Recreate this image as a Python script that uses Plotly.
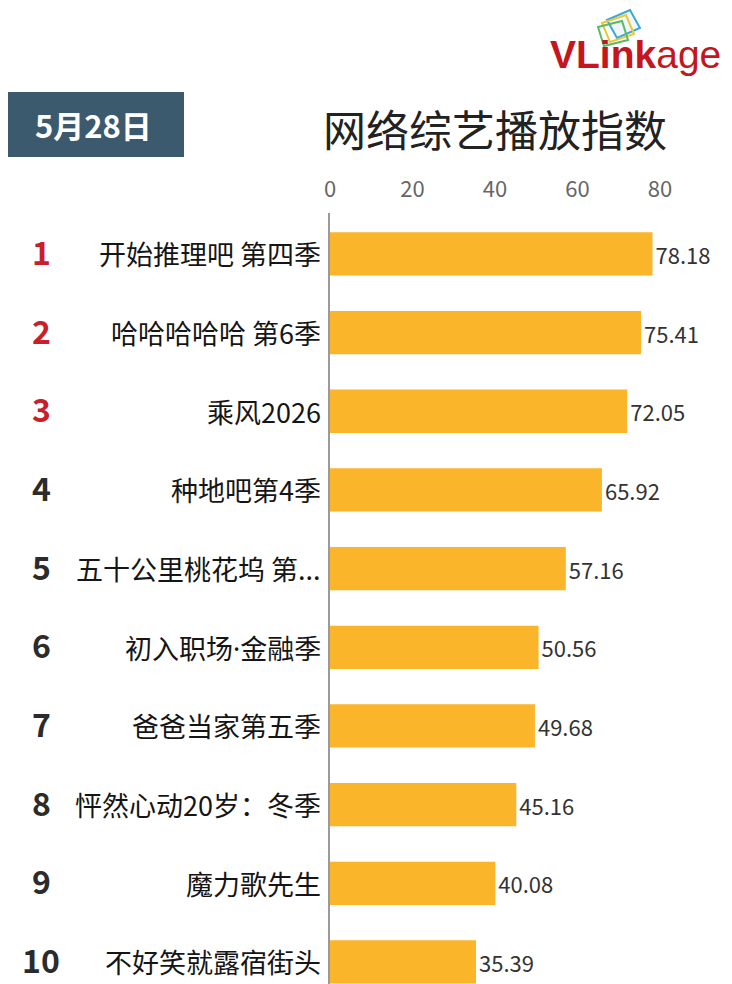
import plotly.graph_objects as go

# The page body adds an 8px offset; map reference pixels accordingly.
OFF = 8
W, H = 732 - OFF, 984 - OFF

ranks = ["1", "2", "3", "4", "5", "6", "7", "8", "9", "10"]
names = ["开始推理吧 第四季", "哈哈哈哈哈 第6季", "乘风2026", "种地吧第4季",
         "五十公里桃花坞 第...", "初入职场·金融季", "爸爸当家第五季",
         "怦然心动20岁：冬季", "魔力歌先生", "不好笑就露宿街头"]
values = [78.18, 75.41, 72.05, 65.92, 57.16, 50.56, 49.68, 45.16, 40.08, 35.39]
tick_vals = [0, 20, 40, 60, 80]
title_text = "网络综艺播放指数"
date_text = "5月28日"

FONT = "Noto Sans CJK SC"
BAR = "#FBB52A"
RED = "#C8202A"
DARK = "#2B2B2B"

def px(x):
    return (x - OFF) / W

def py(y):
    return 1 - (y - OFF) / H

def fmt_name(n):
    # render the middle dot narrow, as in the reference
    return n.replace("·", "<span style='font-family:Noto Sans'>·</span>")

pos = list(range(len(values)))

fig = go.Figure()
fig.add_trace(go.Bar(
    x=values, y=pos, orientation="h", width=0.55,
    marker=dict(color=BAR, line=dict(width=0)),
    text=[f"{v:.2f}" for v in values], textposition="outside",
    textfont=dict(family=FONT, size=22, color="#333333"),
    cliponaxis=False, hoverinfo="skip",
))

annotations = []
for i, (r, n) in enumerate(zip(ranks, names)):
    annotations.append(dict(
        x=px(41), y=i, xref="paper", yref="y", text=f"<b>{r}</b>",
        showarrow=False, xanchor="center", yanchor="middle", yshift=3,
        font=dict(family=FONT, size=32, color=RED if i < 3 else DARK)))
    annotations.append(dict(
        x=px(323), y=i, xref="paper", yref="y", text=fmt_name(n),
        showarrow=False, xanchor="right", yanchor="middle",
        font=dict(family=FONT, size=27, color="#151515")))

annotations.append(dict(
    x=px(495), y=py(128), xref="paper", yref="paper", text=title_text,
    showarrow=False, xanchor="center", yanchor="middle",
    font=dict(family=FONT, size=43, color="#222222")))
annotations.append(dict(
    x=px(93), y=py(125), xref="paper", yref="paper", text=f"<b>{date_text}</b>",
    showarrow=False, xanchor="center", yanchor="middle",
    font=dict(family=FONT, size=31, color="white")))
annotations.append(dict(
    x=px(723), y=py(55), xref="paper", yref="paper",
    text="<b>VLink</b>age",
    showarrow=False, xanchor="right", yanchor="middle",
    font=dict(family="Liberation Sans", size=39, color="#C4161C")))

shapes = [
    dict(type="rect", xref="paper", yref="paper",
         x0=px(2), x1=px(184), y0=py(157), y1=py(92),
         fillcolor="#3C5A6D", line=dict(width=0), layer="below"),
]

def poly(pts, color, fill="rgba(0,0,0,0)"):
    path = "M " + " L ".join(f"{px(a)},{py(b)}" for a, b in pts) + " Z"
    return dict(type="path", xref="paper", yref="paper", path=path,
                line=dict(color=color, width=2), fillcolor=fill)

shapes.append(poly([(607, 20), (630, 10), (640, 28), (617, 38)], "#3AA9D8", "rgba(230,240,250,0.6)"))
shapes.append(poly([(602, 23), (626, 15), (634, 34), (610, 42)], "#E8C93A"))
shapes.append(poly([(598, 27), (622, 21), (628, 40), (604, 46)], "#5DB866"))

fig.update_layout(
    width=W, height=H, autosize=False,
    margin=dict(l=0, r=0, t=0, b=0),
    paper_bgcolor="white", plot_bgcolor="white",
    showlegend=False,
    annotations=annotations, shapes=shapes,
    xaxis=dict(domain=[px(330), px(712)], range=[0, (712 - 330) / 4.125], side="top",
               tickvals=tick_vals, ticks="", showgrid=False, zeroline=False,
               showline=False, automargin=False, ticklabelstandoff=11,
               tickfont=dict(family=FONT, size=22, color="#666666")),
    yaxis=dict(domain=[0, py(213)], range=[9.28, -0.52], showticklabels=False,
               ticks="", showgrid=False, zeroline=False, automargin=False,
               showline=True, linecolor="#9a9a9a", linewidth=1.5),
)

fig.write_html("out.html")
